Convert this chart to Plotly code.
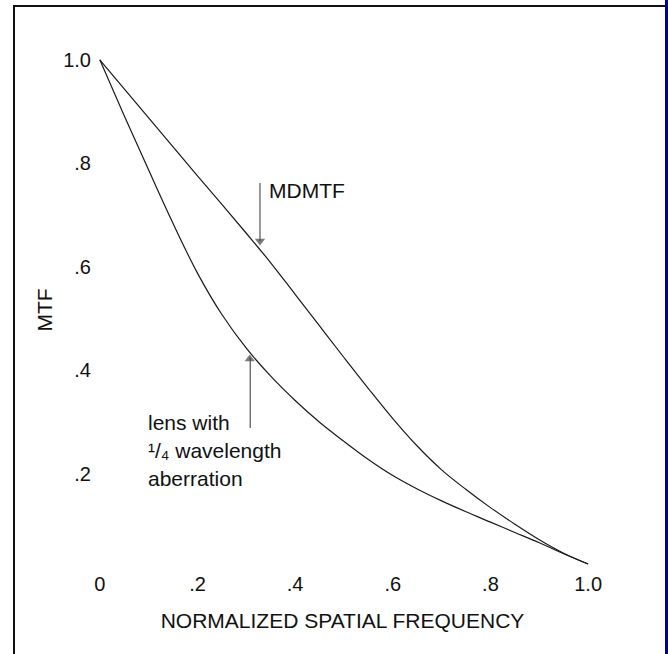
import plotly.graph_objects as go

# ---- data ----
freq = [0, 0.05, 0.10, 0.15, 0.20, 0.25, 0.30, 0.35, 0.40, 0.45, 0.50,
        0.55, 0.60, 0.65, 0.70, 0.75, 0.80, 0.85, 0.90, 0.95, 1.00]
mtf_mdmtf = [1.000, 0.944, 0.888, 0.832, 0.776, 0.721, 0.665, 0.608, 0.547, 0.486, 0.425,
             0.365, 0.307, 0.254, 0.208, 0.170, 0.135, 0.103, 0.073, 0.047, 0.026]
mtf_lens = [1.000, 0.892, 0.787, 0.684, 0.588, 0.508, 0.443, 0.389, 0.342, 0.300, 0.263,
            0.228, 0.197, 0.171, 0.148, 0.127, 0.107, 0.087, 0.067, 0.046, 0.026]

x_tickvals = [0, 0.2, 0.4, 0.6, 0.8, 1.0]
x_ticktext = ["0", ".2", ".4", ".6", ".8", "1.0"]
y_tickvals = [0.2, 0.4, 0.6, 0.8, 1.0]
y_ticktext = [".2", ".4", ".6", ".8", "1.0"]

FONT = "Liberation Sans, Arial, Helvetica, sans-serif"
W, H = 668, 654
ML, MR, MT, MB = 92, 75, 50, 84
PW, PH = W - ML - MR, H - MT - MB


def px(x):
    return (x - ML) / PW


def py(y):
    return (H - MB - y) / PH


fig = go.Figure()
line_style = dict(color="#1a1a1a", width=1.2, shape="spline", smoothing=1.0)
fig.add_trace(go.Scatter(x=freq, y=mtf_mdmtf, mode="lines", line=line_style,
                         name="MDMTF", showlegend=False, hoverinfo="skip"))
fig.add_trace(go.Scatter(x=freq, y=mtf_lens, mode="lines", line=line_style,
                         name="lens with 1/4 wavelength aberration", showlegend=False,
                         hoverinfo="skip"))

# pointer arrows (shaft as shape, head as marker)
ARROW_COLOR = "#444"
shafts = [
    dict(x=0.328, y0=0.762, y1=0.650),   # MDMTF pointer (down)
    dict(x=0.308, y0=0.289, y1=0.425),   # lens pointer (up)
]
fig.add_trace(go.Scatter(x=[0.328, 0.307], y=[0.650, 0.422], mode="markers",
                         marker=dict(symbol=["triangle-down", "triangle-up"], size=[9, 9],
                                     color=ARROW_COLOR, line=dict(width=0)),
                         showlegend=False, hoverinfo="skip"))

ann_font = dict(family=FONT, size=21, color="#111")
annotations = [
    dict(x=0.342, y=0.748, xref="x", yref="y", text="MDMTF", showarrow=False,
         xanchor="left", yanchor="middle", font=ann_font),
    dict(x=0.094, y=0.300, xref="x", yref="y", text="lens with", showarrow=False,
         xanchor="left", yanchor="middle", font=ann_font),
    dict(x=0.094, y=0.245, xref="x", yref="y", text="¹/₄ wavelength",
         showarrow=False, xanchor="left", yanchor="middle", font=ann_font),
    dict(x=0.094, y=0.192, xref="x", yref="y", text="aberration", showarrow=False,
         xanchor="left", yanchor="middle", font=ann_font),
]

shapes = [
    # frame: left line, top line, blue bar on right
    dict(type="line", xref="paper", yref="paper", x0=px(14), x1=px(14), y0=py(5), y1=py(H + 2),
         line=dict(color="#111", width=2)),
    dict(type="line", xref="paper", yref="paper", x0=px(13), x1=px(666), y0=py(6), y1=py(6),
         line=dict(color="#111", width=2)),
    dict(type="rect", xref="paper", yref="paper", x0=px(665), x1=px(W + 20), y0=py(-5), y1=py(H + 5),
         line=dict(width=0), fillcolor="#00008b"),
]
for s in shafts:
    shapes.append(dict(type="line", xref="x", yref="y", x0=s["x"], x1=s["x"], y0=s["y0"], y1=s["y1"],
                       line=dict(color=ARROW_COLOR, width=1.1)))

fig.update_layout(
    width=W, height=H,
    margin=dict(l=ML, r=MR, t=MT, b=MB, pad=0),
    paper_bgcolor="white", plot_bgcolor="white",
    font=dict(family=FONT, size=21, color="#111"),
    showlegend=False,
    annotations=annotations,
    shapes=shapes,
    xaxis=dict(range=[-0.016, 1.01], tickvals=x_tickvals, ticktext=x_ticktext,
               showgrid=False, zeroline=False, showline=False, ticks="",
               tickfont=dict(family=FONT, size=20, color="#111"),
               title=dict(text="NORMALIZED SPATIAL FREQUENCY", standoff=19,
                          font=dict(family=FONT, size=21, color="#111")),
               automargin=False, fixedrange=True),
    yaxis=dict(range=[0.0145, 1.019], tickvals=y_tickvals, ticktext=y_ticktext,
               showgrid=False, zeroline=False, showline=False, ticks="",
               tickfont=dict(family=FONT, size=20, color="#111"),
               title=dict(text="MTF", standoff=4,
                          font=dict(family=FONT, size=21, color="#111")),
               automargin=False, fixedrange=True),
)

fig.write_html("out.html", config={"displayModeBar": False})
